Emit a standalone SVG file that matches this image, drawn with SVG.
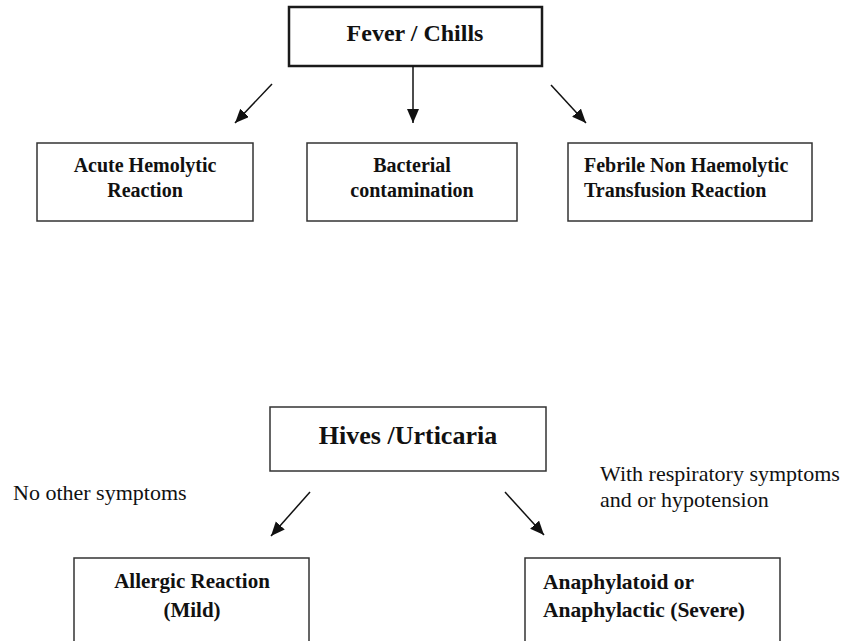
<svg xmlns="http://www.w3.org/2000/svg" width="844" height="641" viewBox="0 0 844 641">
  <style>
    .box { fill: #ffffff; stroke: #333333; stroke-width: 1.5; }
    .main { stroke: #1a1a1a; stroke-width: 2.5; }
    .lbl { font-family: "Liberation Serif", "Times New Roman", serif; font-weight: bold; fill: #111111; }
    .note { font-family: "Liberation Serif", "Times New Roman", serif; font-size: 22px; fill: #111111; }
    .conn { stroke: #111111; stroke-width: 1.5; fill: none; marker-end: url(#arr); }
  </style>
  <defs>
    <marker id="arr" markerUnits="userSpaceOnUse" markerWidth="16" markerHeight="14" refX="14" refY="6" orient="auto">
      <path d="M0,0 L14,6 L0,12 Z" fill="#111111"/>
    </marker>
  </defs>
  <rect width="844" height="641" fill="#ffffff"/>

  <g id="fever">
    <rect class="box main" x="289" y="7" width="253" height="59"/>
    <text class="lbl" x="415" y="41" font-size="24" text-anchor="middle">Fever / Chills</text>
  </g>
  <g id="acute">
    <rect class="box" x="37" y="143" width="216" height="78"/>
    <text class="lbl" x="145" y="172" font-size="20" text-anchor="middle">Acute Hemolytic</text>
    <text class="lbl" x="145" y="197" font-size="20" text-anchor="middle">Reaction</text>
  </g>
  <g id="bacterial">
    <rect class="box" x="307" y="143" width="210" height="78"/>
    <text class="lbl" x="412" y="172" font-size="20" text-anchor="middle">Bacterial</text>
    <text class="lbl" x="412" y="197" font-size="20" text-anchor="middle">contamination</text>
  </g>
  <g id="febrile">
    <rect class="box" x="568" y="143" width="244" height="78"/>
    <text class="lbl" x="584" y="172" font-size="20">Febrile Non Haemolytic</text>
    <text class="lbl" x="584" y="197" font-size="20">Transfusion Reaction</text>
  </g>

  <g id="hives">
    <rect class="box" x="270" y="407" width="276" height="64"/>
    <text class="lbl" x="408" y="444" font-size="26" text-anchor="middle">Hives /Urticaria</text>
  </g>
  <g id="note-left">
    <text class="note" x="13" y="500">No other symptoms</text>
  </g>
  <g id="note-right">
    <text class="note" x="600" y="481">With respiratory symptoms</text>
    <text class="note" x="600" y="507">and or hypotension</text>
  </g>
  <g id="allergic">
    <rect class="box" x="74" y="558" width="235" height="100"/>
    <text class="lbl" x="192" y="588" font-size="21" text-anchor="middle">Allergic Reaction</text>
    <text class="lbl" x="192" y="617" font-size="21" text-anchor="middle">(Mild)</text>
  </g>
  <g id="anaphylactic">
    <rect class="box" x="525" y="558" width="255" height="100"/>
    <text class="lbl" x="543" y="589" font-size="21.5">Anaphylatoid or</text>
    <text class="lbl" x="543" y="617" font-size="21.5">Anaphylactic (Severe)</text>
  </g>

  <g id="connectors">
    <line class="conn" x1="272" y1="84" x2="235" y2="123"/>
    <line class="conn" x1="413" y1="66" x2="413" y2="123"/>
    <line class="conn" x1="551" y1="85" x2="586" y2="123"/>
    <line class="conn" x1="310" y1="492" x2="271" y2="536"/>
    <line class="conn" x1="505" y1="492" x2="544" y2="535"/>
  </g>
</svg>
